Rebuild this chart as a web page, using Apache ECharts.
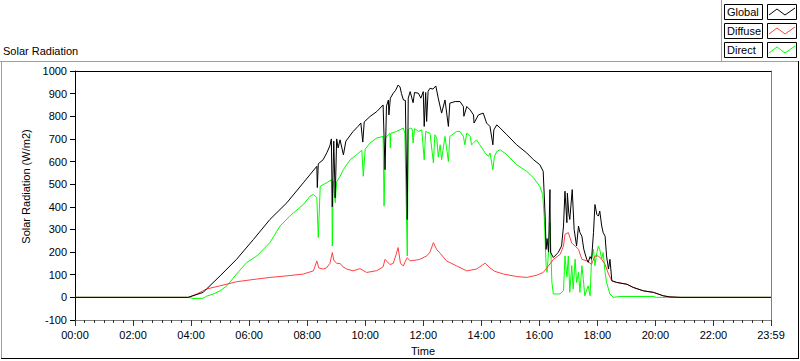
<!DOCTYPE html>
<html><head><meta charset="utf-8">
<script src="https://cdn.jsdelivr.net/npm/echarts@6/dist/echarts.min.js"></script>
<style>html,body{margin:0;padding:0;background:#fff}#c{width:800px;height:361px}</style>
</head><body><div id="c"></div>
<script>
// ---- data (time in minutes after midnight, values in W/m2) ----
const seriesNames = ['Global', 'Diffuse', 'Direct'];
const xTickValues = [0,120,240,360,480,600,720,840,960,1080,1200,1320,1439];
const xTickLabels = ['00:00','02:00','04:00','06:00','08:00','10:00','12:00','14:00','16:00','18:00','20:00','22:00','23:59'];

const globalTime = [0,234,265,272,300,334,369,403,438,472,500,501,503,513,521,527,530,532,535,538,541,544,548,555,560,575,585,591,595,598,610,624,637,641,644,648,649,652,658,663,668,672,675,679,683,687,689,693,699,702,710,715,720,722,725,727,730,734,740,746,751,758,765,772,775,786,796,803,804,810,817,824,825,834,844,851,858,864,866,872,879,893,913,934,948,961,968,972,974,976,979,982,983,989,999,1006,1010,1013,1017,1018,1021,1023,1028,1032,1037,1041,1044,1048,1052,1058,1061,1065,1068,1072,1075,1079,1082,1085,1089,1092,1096,1099,1103,1106,1110,1120,1141,1154,1175,1196,1216,1230,1251,1439];
const globalValue = [0,0,22,37,95,168,256,344,418,506,579,485,590,608,640,670,700,400,690,440,700,660,696,630,690,733,755,770,686,775,799,821,850,564,845,872,806,880,902,915,938,930,900,872,870,344,880,909,860,905,902,880,909,755,905,777,910,924,920,934,880,814,872,755,858,865,865,843,800,843,828,806,770,806,814,770,755,674,740,762,748,718,674,638,608,586,557,359,212,260,200,476,200,176,198,227,315,469,330,460,370,344,476,300,227,315,286,270,212,168,155,180,168,286,410,366,359,381,315,286,270,183,125,168,73,66,58,44,29,22,7,2,0,0];

const diffuseTime = [0,234,252,272,300,334,376,403,438,472,493,500,504,513,520,527,532,535,541,548,554,562,575,589,603,624,637,641,651,658,664,668,673,679,683,687,693,706,713,727,734,741,748,755,768,789,810,830,837,848,858,868,886,913,934,955,968,979,989,1003,1010,1013,1020,1027,1034,1041,1048,1058,1068,1075,1082,1089,1096,1103,1110,1120,1141,1154,1175,1196,1216,1230,1251,1439];
const diffuseValue = [0,0,15,37,51,69,81,88,95,103,117,161,130,125,130,150,198,165,150,150,135,125,117,127,110,118,135,168,145,150,190,220,150,139,160,175,161,165,168,183,200,242,210,195,161,139,117,125,135,151,130,115,103,92,88,98,110,139,168,190,227,278,286,240,227,212,168,161,146,183,183,168,146,103,73,66,58,44,29,22,7,2,0,0];

const directTime = [0,234,244,265,272,286,300,314,334,355,376,403,424,444,472,486,493,500,503,507,520,531,532,534,538,541,548,555,569,582,593,596,600,610,624,637,639,642,651,652,653,665,679,682,687,689,693,697,699,702,706,710,717,722,725,734,741,744,748,751,755,758,765,772,775,789,796,803,806,810,817,820,824,830,837,848,855,858,864,867,872,879,893,913,934,948,961,967,970,972,974,976,979,982,986,989,1003,1010,1013,1017,1020,1023,1027,1030,1034,1037,1041,1044,1048,1051,1054,1061,1065,1068,1072,1075,1079,1082,1085,1089,1092,1096,1099,1106,1113,1127,1195,1202,1439];
const directValue = [0,0,-5,-4,5,15,29,51,103,154,183,242,315,359,410,447,455,440,264,491,506,520,227,515,418,510,535,565,608,630,650,535,655,682,704,711,403,705,725,660,725,733,748,725,183,740,748,745,682,745,740,733,740,608,733,725,594,718,704,620,674,608,711,600,711,733,733,711,674,726,711,674,682,696,674,638,623,638,564,620,645,652,630,586,557,528,491,454,359,256,140,110,200,330,66,15,15,30,183,90,183,22,140,37,169,66,110,22,140,80,7,51,7,169,212,140,198,227,212,169,198,110,66,15,0,4,4,0,0];

// ---- build ----
const FONT = 'Liberation Sans';
const zip = (t, v) => t.map((m, i) => [m, v[i]]);
const colors = { Global: '#000000', Diffuse: '#ff4040', Direct: '#00ff00' };

const chart = echarts.init(document.getElementById('c'), null, { renderer: 'svg' });

// legend drawn as boxed LabVIEW-style plot legend
const legendGraphics = [];
seriesNames.forEach((n, i) => {
  const y = 4 + i * 19;
  legendGraphics.push(
    { type: 'rect', shape: { x: 724.5, y: y + 0.5, width: 38, height: 15 }, style: { fill: '#fff', stroke: '#000', lineWidth: 1 } },
    { type: 'rect', shape: { x: 767.5, y: y + 0.5, width: 29, height: 15 }, style: { fill: '#fff', stroke: '#000', lineWidth: 1 } },
    { type: 'text', x: 727, y: y + 8, style: { text: n, fill: '#000', font: '11px "' + FONT + '"', textVerticalAlign: 'middle', verticalAlign: 'middle' } },
    { type: 'polyline', shape: { points: [[769, y + 11], [777, y + 5], [785, y + 11], [795, y + 4]] }, style: { stroke: colors[n], lineWidth: 1, fill: null } }
  );
});

chart.setOption({
  animation: false,
  backgroundColor: '#fff',
  title: { text: 'Solar Radiation', left: 3, top: 45, padding: 0,
    textStyle: { fontFamily: FONT, fontSize: 11, fontWeight: 'normal', color: '#000' } },
  graphic: [
    { type: 'line', shape: { x1: 0, y1: 61.5, x2: 798, y2: 61.5 }, style: { stroke: '#a0a0a0', lineWidth: 1 } },
    { type: 'line', shape: { x1: 721.5, y1: 0, x2: 721.5, y2: 61 }, style: { stroke: '#a0a0a0', lineWidth: 1 } },
    { type: 'line', shape: { x1: 1.5, y1: 61, x2: 1.5, y2: 358 }, style: { stroke: '#a0a0a0', lineWidth: 1 } },
    { type: 'line', shape: { x1: 798.5, y1: 61, x2: 798.5, y2: 359 }, style: { stroke: '#000', lineWidth: 1 } },
    { type: 'line', shape: { x1: 1, y1: 358.5, x2: 799, y2: 358.5 }, style: { stroke: '#000', lineWidth: 1 } },
    ...legendGraphics
  ],
  grid: { left: 75, right: 29, top: 71, bottom: 40, containLabel: false },
  xAxis: [
    { type: 'value', min: 0, max: 1439, position: 'bottom',
      name: 'Time', nameLocation: 'middle', nameGap: 25,
      nameTextStyle: { fontFamily: FONT, fontSize: 11, color: '#000' },
      axisLine: { show: true, onZero: false, lineStyle: { color: '#808080', width: 1 } },
      axisTick: { show: true, customValues: xTickValues, length: 6, lineStyle: { color: '#333' } },
      axisLabel: { customValues: xTickValues, margin: 9, fontFamily: FONT, fontSize: 11, color: '#000',
        formatter: v => { const i = xTickValues.indexOf(v); return i >= 0 ? xTickLabels[i] : ''; } },
      splitLine: { show: false } },
    { type: 'value', min: 0, max: 1439, interval: 20, position: 'bottom',
      axisLine: { show: false, onZero: false },
      axisTick: { show: true, length: 3, lineStyle: { color: '#333' } },
      axisLabel: { show: false }, splitLine: { show: false } },
    { type: 'value', min: 0, max: 1439, position: 'top',
      axisLine: { show: true, onZero: false, lineStyle: { color: '#000' } },
      axisTick: { show: false }, axisLabel: { show: false }, splitLine: { show: false } }
  ],
  yAxis: [
    { type: 'value', min: -100, max: 1000, interval: 100, position: 'left',
      name: 'Solar Radiation (W/m2)', nameLocation: 'middle', nameGap: 24,
      nameTextStyle: { fontFamily: FONT, fontSize: 11, color: '#000', padding: [0, 0, 0, 18] },
      axisLine: { show: true, onZero: false, lineStyle: { color: '#000' } },
      axisTick: { show: true, length: 5, lineStyle: { color: '#000' } },
      axisLabel: { margin: 8, fontFamily: FONT, fontSize: 11, color: '#000', formatter: v => String(v) },
      splitLine: { show: false } },
    { type: 'value', min: -100, max: 1000, interval: 100, position: 'right',
      axisLine: { show: true, onZero: false, lineStyle: { color: '#808080' } },
      axisTick: { show: false }, axisLabel: { show: false }, splitLine: { show: false } }
  ],
  series: [
    { name: 'Direct', type: 'line', data: zip(directTime, directValue), showSymbol: false, symbol: 'none',
      lineStyle: { color: colors.Direct, width: 1 }, itemStyle: { color: colors.Direct }, z: 2 },
    { name: 'Diffuse', type: 'line', data: zip(diffuseTime, diffuseValue), showSymbol: false, symbol: 'none',
      lineStyle: { color: colors.Diffuse, width: 1 }, itemStyle: { color: colors.Diffuse }, z: 3 },
    { name: 'Global', type: 'line', data: zip(globalTime, globalValue), showSymbol: false, symbol: 'none',
      lineStyle: { color: colors.Global, width: 1 }, itemStyle: { color: colors.Global }, z: 4 }
  ]
});
</script></body></html>
